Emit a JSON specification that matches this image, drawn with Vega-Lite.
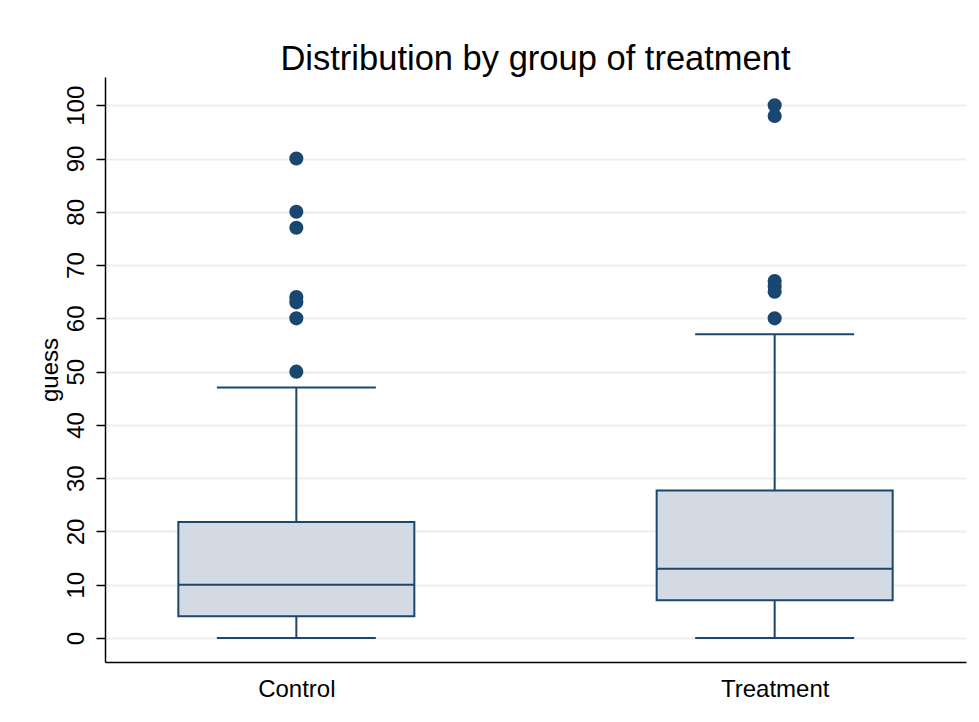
{
  "$schema": "https://vega.github.io/schema/vega-lite/v6.json",
  "autosize": "none",
  "width": 861,
  "height": 585,
  "padding": {"left": 105, "top": 77, "right": 13, "bottom": 60},
  "background": "white",
  "title": {
    "text": "Distribution by group of treatment",
    "font": "Liberation Sans",
    "fontSize": 34.5,
    "fontWeight": "normal",
    "color": "black",
    "anchor": "middle",
    "offset": 0
  },
  "config": {
    "view": {"stroke": null},
    "font": "Liberation Sans"
  },
  "datasets": {
    "boxes": [
      {"group": "Control", "lower": 0, "q1": 4.1, "median": 10, "q3": 21.8, "upper": 47},
      {"group": "Treatment", "lower": 0, "q1": 7.1, "median": 13, "q3": 27.7, "upper": 57}
    ],
    "outliers": [
      {"group": "Control", "guess": 90},
      {"group": "Control", "guess": 80},
      {"group": "Control", "guess": 77},
      {"group": "Control", "guess": 64},
      {"group": "Control", "guess": 63},
      {"group": "Control", "guess": 60},
      {"group": "Control", "guess": 50},
      {"group": "Treatment", "guess": 100},
      {"group": "Treatment", "guess": 98},
      {"group": "Treatment", "guess": 67},
      {"group": "Treatment", "guess": 66},
      {"group": "Treatment", "guess": 65},
      {"group": "Treatment", "guess": 60}
    ]
  },
  "encoding": {
    "x": {
      "field": "group",
      "type": "nominal",
      "scale": {"type": "point", "padding": 0.4, "domain": ["Control", "Treatment"]},
      "axis": {
        "title": null,
        "labelAngle": 0,
        "labelFontSize": 24,
        "labelColor": "black",
        "labelPadding": 15,
        "ticks": false,
        "domainColor": "black",
        "domainWidth": 1.5,
        "grid": false
      }
    }
  },
  "layer": [
    {
      "data": {"name": "boxes"},
      "mark": {"type": "rule", "color": "#1a476f", "strokeWidth": 2},
      "encoding": {
        "y": {
          "field": "lower",
          "type": "quantitative",
          "scale": {"domain": [-4.5, 105.3], "nice": false, "zero": false},
          "axis": {
            "title": "guess",
            "titleFontSize": 24,
            "titleFontWeight": "normal",
            "titleColor": "black",
            "titlePadding": 2,
            "values": [0, 10, 20, 30, 40, 50, 60, 70, 80, 90, 100],
            "labelAngle": -90,
            "labelAlign": "center",
            "labelBaseline": "bottom",
            "labelFontSize": 24,
            "labelColor": "black",
            "labelPadding": 8,
            "tickSize": 9,
            "tickColor": "black",
            "tickWidth": 1.5,
            "domainColor": "black",
            "domainWidth": 1.5,
            "grid": true,
            "gridColor": "#e8f0f2",
            "gridWidth": 2
          }
        },
        "y2": {"field": "upper"}
      }
    },
    {
      "data": {"name": "boxes"},
      "mark": {"type": "bar", "size": 236, "fill": "#d3dae3", "stroke": "#1a476f", "strokeWidth": 2},
      "encoding": {
        "y": {"field": "q1", "type": "quantitative"},
        "y2": {"field": "q3"}
      }
    },
    {
      "data": {"name": "boxes"},
      "mark": {"type": "tick", "size": 236, "thickness": 2, "color": "#1a476f", "opacity": 1},
      "encoding": {
        "y": {"field": "median", "type": "quantitative"}
      }
    },
    {
      "data": {"name": "boxes"},
      "mark": {"type": "tick", "size": 159, "thickness": 2, "color": "#1a476f", "opacity": 1},
      "encoding": {
        "y": {"field": "lower", "type": "quantitative"}
      }
    },
    {
      "data": {"name": "boxes"},
      "mark": {"type": "tick", "size": 159, "thickness": 2, "color": "#1a476f", "opacity": 1},
      "encoding": {
        "y": {"field": "upper", "type": "quantitative"}
      }
    },
    {
      "data": {"name": "outliers"},
      "mark": {"type": "circle", "size": 200, "color": "#1a476f", "opacity": 1},
      "encoding": {
        "y": {"field": "guess", "type": "quantitative"}
      }
    }
  ]
}
